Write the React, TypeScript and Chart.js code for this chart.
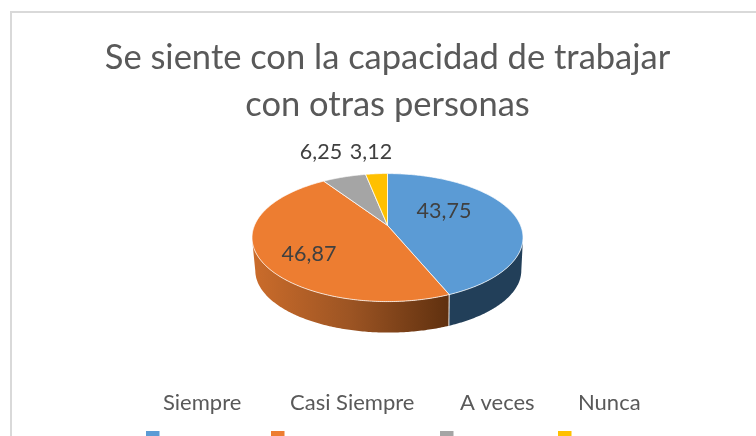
import React, { useEffect, useRef } from "react";
import { Chart, registerables } from "chart.js";

Chart.register(...registerables);

const categories = ["Siempre", "Casi Siempre", "A veces", "Nunca"];
const seriesValues = [43.75, 46.87, 6.25, 3.12];
const sliceColors = ["#5b9bd5", "#ed7d31", "#a5a5a5", "#ffc000"];
const titleLines = ["Se siente con la capacidad de trabajar", "con otras personas"];

const FONT = "Lato, Carlito, sans-serif";
const TEXT = "#595959";
const LABEL_TEXT = "#404040";

// canvas origin in page coordinates
const OX = 12;
const OY = 13;

// appearance of the tilted disc
const RX = 135.5;
const RY = 64;
const TILT = 0.19; // how far the apex sits above the ellipse centre (normalised)
const BOTTOM = { dx: 0.8, dy: 33, rx: 133, ry: 62 };

// layout of the text, in page pixels
const LABEL_ANCHORS: [number, number][] = [[444, 211], [309, 254], [321, 152], [371, 152]];
const LEGEND_TEXT_X = [163, 290, 460, 578];
const LEGEND_BOX_X = [146, 271, 440, 558];
const LEGEND_TEXT_Y = 403;
const LEGEND_BOX_Y = 431;

function normal(a: number) {
  const u = Math.cos(a);
  const v = -Math.sin(a);
  const w = 1 + TILT * v;
  return { X: (u * Math.sqrt(1 - TILT * TILT)) / w, Y: (v + TILT) / w };
}

const pieProjection = {
  id: "pieProjection",
  beforeDatasetDraw(chart: any) {
    const ctx = chart.ctx as CanvasRenderingContext2D;
    const arcs = chart.getDatasetMeta(0).data;
    const cx = arcs[0].x;
    const cy = arcs[0].y;
    const top = (p: { X: number; Y: number }) => [cx + p.X * RX, cy - p.Y * RY];
    const bot = (p: { X: number; Y: number }) => [
      cx + BOTTOM.dx + p.X * BOTTOM.rx,
      cy + BOTTOM.dy - p.Y * BOTTOM.ry,
    ];
    const N = 240;

    // side wall, blue and orange parts are the ones that face the viewer
    arcs.forEach((arc: any, i: number) => {
      const { startAngle, endAngle } = arc.getProps(["startAngle", "endAngle"]);
      const front: { X: number; Y: number }[] = [];
      for (let k = 0; k <= N; k++) {
        const p = normal(startAngle + ((endAngle - startAngle) * k) / N);
        if (p.Y <= 0.005) front.push(p);
      }
      if (!front.length) return;
      ctx.beginPath();
      front.forEach((p, k) => {
        const [x, y] = top(p);
        k ? ctx.lineTo(x, y) : ctx.moveTo(x, y);
      });
      [...front].reverse().forEach((p) => {
        const [x, y] = bot(p);
        ctx.lineTo(x, y);
      });
      ctx.closePath();
      if (i === 1) {
        const g = ctx.createLinearGradient(cx - RX, 0, cx + 62, 0);
        g.addColorStop(0, "#cb6c2b");
        g.addColorStop(0.5, "#9c5423");
        g.addColorStop(1, "#5f300f");
        ctx.fillStyle = g;
      } else {
        ctx.fillStyle = "#223f59";
      }
      ctx.fill();
      // pale edge between the two wall parts
      if (i === 1) {
        const [x0, y0] = top(front[0]);
        const [x1, y1] = bot(front[0]);
        ctx.beginPath();
        ctx.moveTo(x0, y0);
        ctx.lineTo(x1, y1);
        ctx.strokeStyle = "rgba(255,255,255,0.75)";
        ctx.lineWidth = 1.2;
        ctx.stroke();
      }
    });

    // top face
    arcs.forEach((arc: any, i: number) => {
      const { startAngle, endAngle } = arc.getProps(["startAngle", "endAngle"]);
      ctx.beginPath();
      ctx.moveTo(...(top({ X: 0, Y: TILT }) as [number, number]));
      for (let k = 0; k <= N; k++) {
        const [x, y] = top(normal(startAngle + ((endAngle - startAngle) * k) / N));
        ctx.lineTo(x, y);
      }
      ctx.closePath();
      ctx.fillStyle = sliceColors[i];
      ctx.fill();
      ctx.strokeStyle = "rgba(255,255,255,0.75)";
      ctx.lineWidth = 1;
      ctx.stroke();
    });
    return false;
  },
  afterDraw(chart: any) {
    const ctx = chart.ctx as CanvasRenderingContext2D;
    ctx.save();
    ctx.textBaseline = "middle";
    ctx.textAlign = "center";
    ctx.font = `21.5px ${FONT}`;
    ctx.fillStyle = LABEL_TEXT;
    seriesValues.forEach((v, i) => {
      const [x, y] = LABEL_ANCHORS[i];
      ctx.fillText(v.toFixed(2).replace(".", ","), x - OX, y - OY);
    });
    ctx.textAlign = "left";
    ctx.font = `22px ${FONT}`;
    ctx.fillStyle = TEXT;
    categories.forEach((c, i) => {
      ctx.fillText(c, LEGEND_TEXT_X[i] - OX, LEGEND_TEXT_Y - OY);
      ctx.fillStyle = sliceColors[i];
      ctx.fillRect(LEGEND_BOX_X[i] - OX, LEGEND_BOX_Y - OY, 13.5, 13.5);
      ctx.fillStyle = TEXT;
    });
    ctx.restore();
  },
};

export default function App() {
  const ref = useRef<HTMLCanvasElement>(null);
  useEffect(() => {
    const chart = new Chart(ref.current!, {
      type: "pie",
      data: {
        labels: categories,
        datasets: [{ data: seriesValues, backgroundColor: sliceColors, borderWidth: 0 }],
      },
      options: {
        responsive: false,
        animation: false,
        layout: { padding: { top: 0, bottom: 111, left: 0, right: 0 } },
        plugins: {
          legend: { display: false },
          tooltip: { enabled: false },
          title: {
            display: true,
            text: titleLines,
            color: TEXT,
            font: { family: FONT, size: 34.5, weight: "normal", lineHeight: 1.35 },
            padding: { top: 22, bottom: 6 },
          },
        },
      },
      plugins: [pieProjection],
    } as any);
    return () => chart.destroy();
  }, []);
  return (
    <div style={{ position: "fixed", left: 0, top: 0, width: 756, height: 436, overflow: "hidden", background: "#fff" }}>
      <div
        style={{
          position: "absolute",
          left: 10,
          top: 11,
          width: 755,
          height: 441,
          boxSizing: "content-box",
          border: "2px solid #d9d9d9",
        }}
      >
        <canvas ref={ref} width={751} height={439} style={{ display: "block" }} />
      </div>
    </div>
  );
}
